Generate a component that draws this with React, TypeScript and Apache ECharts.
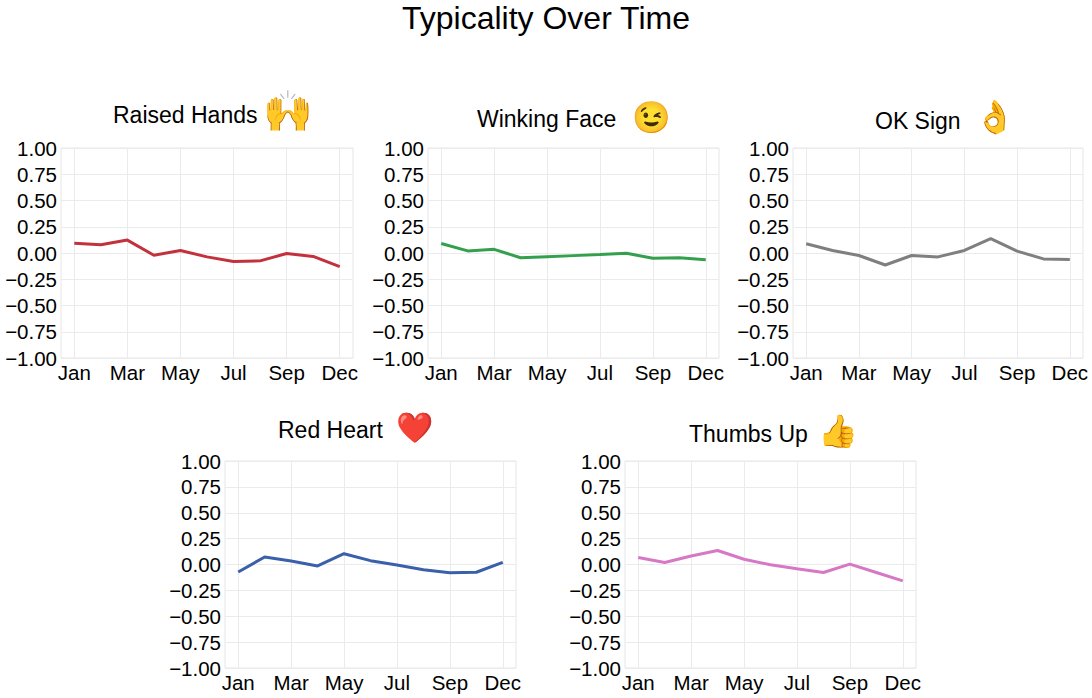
import React, { useEffect, useRef } from "react";
import * as echarts from "echarts";

const months = ["Jan", "Feb", "Mar", "Apr", "May", "Jun", "Jul", "Aug", "Sep", "Oct", "Dec"];
const tickIdx = [0, 2, 4, 6, 8, 10];

const raisedHands = [0.094, 0.078, 0.123, -0.021, 0.024, -0.037, -0.081, -0.075, -0.005, -0.033, -0.129];
const winkingFace = [0.09, 0.02, 0.035, -0.045, -0.035, -0.025, -0.015, -0.002, -0.05, -0.045, -0.065];
const okSign = [0.088, 0.024, -0.024, -0.114, -0.024, -0.037, 0.024, 0.136, 0.018, -0.056, -0.062];
const redHeart = [-0.072, 0.072, 0.034, -0.014, 0.104, 0.037, -0.005, -0.05, -0.079, -0.075, 0.021];
const thumbsUp = [0.068, 0.019, 0.082, 0.135, 0.051, -0.003, -0.042, -0.077, 0.003, -0.077, -0.158];

const names = ["Raised Hands", "Winking Face", "OK Sign", "Red Heart", "Thumbs Up"];
const emojis = ["🙌", "😉", "👌", "❤️", "👍"];
const seriesData = [raisedHands, winkingFace, okSign, redHeart, thumbsUp];
const colors = ["#c2323d", "#34a04d", "#7f7f7f", "#3a60ab", "#d678c5"];

const grids = [
  { left: 61, top: 148, width: 292, height: 210 },
  { left: 428, top: 148, width: 291, height: 210 },
  { left: 793, top: 148, width: 290, height: 210 },
  { left: 225, top: 461, width: 291, height: 207 },
  { left: 625, top: 461, width: 291, height: 207 },
];
const titlePos = [
  { x: 113, y: 114.5, ex: 263, ey: 111, es: 40 },
  { x: 477, y: 119, ex: 632, ey: 117, es: 31 },
  { x: 875, y: 121, ex: 975, ey: 117, es: 32 },
  { x: 278, y: 429.5, ex: 396, ey: 427, es: 30 },
  { x: 689, y: 434, ex: 818, ey: 431, es: 32 },
];

const FONT = "'Liberation Sans', Arial, Helvetica, sans-serif";

export default function App() {
  const ref = useRef<HTMLDivElement>(null);
  useEffect(() => {
    if (!ref.current) return;
    const chart = echarts.init(ref.current, undefined, { renderer: "svg" });
    const fmtY = (v: number) => (v < 0 ? "\u2212" + Math.abs(v).toFixed(2) : v.toFixed(2));
    const option: any = {
      animation: false,
      backgroundColor: "#ffffff",
      textStyle: { fontFamily: FONT },
      grid: grids.map((g) => ({
        ...g,
        show: true,
        borderColor: "#e6e6e6",
        borderWidth: 1,
        backgroundColor: "transparent",
        containLabel: false,
      })),
      xAxis: grids.map((_, i) => ({
        type: "value",
        gridIndex: i,
        min: -0.5,
        max: 10.5,
        axisLine: { show: false },
        axisTick: { show: false },
        splitLine: { show: false },
        axisLabel: {
          customValues: tickIdx,
          formatter: (v: number) => months[Math.round(v)] ?? "",
          fontSize: 20.5,
          color: "#000",
          margin: 4,
          fontFamily: FONT,
        },
      })),
      yAxis: grids.map((_, i) => ({
        type: "value",
        gridIndex: i,
        min: -1,
        max: 1,
        interval: 0.25,
        axisLine: { show: false },
        axisTick: { show: false },
        splitLine: { show: true, lineStyle: { color: "#ebebeb", width: 1 } },
        axisLabel: {
          formatter: fmtY,
          fontSize: 20.5,
          color: "#000",
          margin: 4,
          fontFamily: FONT,
        },
      })),
      series: seriesData.map((d, i) => ({
        type: "line",
        name: names[i],
        xAxisIndex: i,
        yAxisIndex: i,
        data: d.map((v, k) => [k, v]),
        showSymbol: false,
        symbol: "none",
        z: 10,
        lineStyle: { color: colors[i], width: 3 },
        itemStyle: { color: colors[i] },
        markLine: {
          silent: true,
          symbol: ["none", "none"],
          label: { show: false },
          lineStyle: { color: "#ebebeb", width: 1, type: "solid" },
          data: tickIdx.map((t) => ({ xAxis: t })),
        },
      })),
      graphic: [
        {
          type: "text",
          x: 546,
          y: 18,
          style: {
            text: "Typicality Over Time",
            fontSize: 32,
            fontFamily: FONT,
            fill: "#000",
            textAlign: "center",
            textVerticalAlign: "middle",
          },
        },
        ...titlePos.flatMap((p, i) => [
          {
            type: "text",
            x: p.x,
            y: p.y,
            style: {
              text: names[i],
              fontSize: 23,
              fontFamily: FONT,
              fill: "#000",
              textAlign: "left",
              textVerticalAlign: "middle",
            },
          },
          {
            type: "text",
            x: p.ex,
            y: p.ey,
            style: {
              text: emojis[i],
              fontSize: p.es,
              fontFamily: "'Noto Color Emoji', 'Apple Color Emoji', 'Segoe UI Emoji', 'DejaVu Sans', sans-serif",
              fill: i === 3 ? "#e0202a" : "#f2b81c",
              textAlign: "left",
              textVerticalAlign: "middle",
            },
          },
        ]),
      ],
    };
    chart.setOption(option);
    return () => chart.dispose();
  }, []);
  return (
    <div
      ref={ref}
      style={{ position: "fixed", left: 0, top: 0, width: 1092, height: 698, background: "#fff" }}
    />
  );
}
